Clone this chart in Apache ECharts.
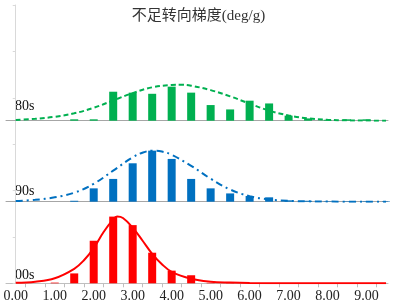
<!DOCTYPE html>
<html>
<head>
<meta charset="utf-8">
<script src="https://cdn.jsdelivr.net/npm/echarts@6/dist/echarts.min.js"></script>
<style>html,body{margin:0;padding:0;background:#fff}#c{width:397px;height:308px}</style>
</head>
<body>
<div id="c"></div>
<script>
// ---- data ----
const titleText = '不足转向梯度(deg/g)';
const bandNames = ['80s', '90s', '00s'];
const binX = [0.0, 0.5, 1.0, 1.5, 2.0, 2.5, 3.0, 3.5, 4.0, 4.5, 5.0, 5.5, 6.0, 6.5, 7.0, 7.5, 8.0, 8.5, 9.0, 9.5];
const bars80 = [0, 0, 0, 0.6, 0.6, 12.6, 12.2, 11.7, 14.8, 12.2, 6.8, 4.9, 8.7, 7.5, 2.2, 1.0, 0.4, 0.6, 0.6, 0];
const bars90 = [0, 0, 0, 0.4, 5.8, 9.9, 16.7, 22.2, 18.6, 9.9, 5.8, 3.6, 2.5, 1.9, 0.6, 0.4, 0.2, 0.2, 0.2, 0.2];
const bars00 = [0, 0, 0.3, 4.3, 18.5, 29.0, 25.3, 13.3, 5.5, 3.5, 0.2, 0.4, 0, 0, 0, 0, 0, 0, 0, 0];

const curve80X = [0, 0.5, 1.0, 1.5, 2.0, 2.5, 3.0, 3.5, 4.0, 4.25, 4.5, 5.0, 5.5, 6.0, 6.5, 7.0, 7.5, 8.0, 8.5, 9.0, 9.5];
const curve80Y = [0.3, 0.8, 1.7, 3.2, 5.6, 8.8, 12.0, 14.5, 15.5, 15.6, 15.2, 13.3, 10.6, 7.4, 4.4, 2.3, 1.0, 0.4, 0.15, 0.05, 0];
const curve90X = [0, 0.5, 1.0, 1.5, 2.0, 2.5, 3.0, 3.25, 3.5, 3.75, 4.0, 4.5, 5.0, 5.5, 6.0, 6.5, 7.0, 7.5, 8.0, 9.5];
const curve90Y = [0.3, 0.8, 1.9, 3.9, 7.8, 13.5, 19.3, 21.3, 22.2, 21.8, 20.4, 15.6, 10.0, 5.3, 2.4, 1.0, 0.4, 0.15, 0.05, 0];
const curve00X = [0, 0.5, 1.0, 1.5, 1.75, 2.0, 2.25, 2.5, 2.6, 2.75, 3.0, 3.25, 3.5, 3.75, 4.0, 4.5, 5.0, 5.5, 6.0, 7.0, 9.5];
const curve00Y = [0.2, 0.7, 2.2, 6.3, 10.0, 15.3, 22.2, 27.8, 29.0, 28.4, 24.2, 18.6, 12.8, 8.3, 5.0, 2.0, 0.7, 0.3, 0.1, 0, 0];

const xLabelValues = [0, 1, 2, 3, 4, 5, 6, 7, 8, 9];
const xTickValues = [0.25, 0.75, 1.25, 1.75, 2.25, 2.75, 3.25, 3.75, 4.25, 4.75, 5.25, 5.75, 6.25, 6.75, 7.25, 7.75, 8.25, 8.75, 9.25];

// ---- chart ----
const zip = (xs, ys) => xs.map((x, i) => [x, ys[i]]);
const serif = '"Liberation Serif", "DejaVu Serif", "Noto Sans CJK SC", serif';
const XMIN = -0.25, XMAX = 9.55;
const L = 6, W = 382;
const baselines = [120.7, 201.7, 283.3];
const bandH = 92;
const colors = ['#00b050', '#0070c0', '#ff0000'];

const grids = [{ left: L, width: W, top: 5, height: 278.3 }];
baselines.forEach(b => grids.push({ left: L, width: W, top: b - bandH, height: bandH }));

const xAxes = [{
  gridIndex: 0, type: 'value', min: XMIN, max: XMAX,
  axisLine: { show: true, lineStyle: { color: '#bfbfbf', width: 1 } },
  axisTick: { show: true, length: 4, customValues: xTickValues, lineStyle: { color: '#bfbfbf' } },
  axisLabel: { show: true, customValues: xLabelValues, formatter: v => Number(v).toFixed(2),
    fontFamily: serif, fontSize: 14, color: '#222', margin: 6 },
  splitLine: { show: false }
}];
const yAxes = [{
  gridIndex: 0, type: 'value', min: 0, max: 6, interval: 1,
  axisLine: { show: true, lineStyle: { color: '#d9d9d9', width: 1 } },
  axisTick: { show: true, length: 3, lineStyle: { color: '#d9d9d9' } },
  axisLabel: { show: false }, splitLine: { show: false }
}];
baselines.forEach((b, i) => {
  xAxes.push({
    gridIndex: i + 1, type: 'value', min: XMIN, max: XMAX,
    axisLine: { show: i < 2, onZero: false, lineStyle: { color: '#a6a6a6', width: 1 } },
    axisTick: { show: false }, axisLabel: { show: false }, splitLine: { show: false }
  });
  yAxes.push({
    gridIndex: i + 1, type: 'value', min: 0, max: 40, show: false, splitLine: { show: false }
  });
});

const barSets = [bars80, bars90, bars00];
const curves = [zip(curve80X, curve80Y), zip(curve90X, curve90Y), zip(curve00X, curve00Y)];
const lineStyles = [
  { type: [5, 3], width: 2 },
  { type: [7, 4, 2, 4], width: 2 },
  { type: 'solid', width: 2 }
];
const series = [];
barSets.forEach((vals, i) => {
  series.push({
    type: 'bar', xAxisIndex: i + 1, yAxisIndex: i + 1, barWidth: 8,
    data: zip(binX, vals), itemStyle: { color: colors[i] }, silent: true, z: 2
  });
});
curves.forEach((pts, i) => {
  series.push({
    type: 'line', xAxisIndex: i + 1, yAxisIndex: i + 1, smooth: 0.4, symbol: 'none',
    data: pts, lineStyle: Object.assign({ color: colors[i] }, lineStyles[i]), silent: true, z: 3
  });
});

const labelCenters = [107.5, 192, 276];
const graphic = bandNames.map((n, i) => ({
  type: 'text', left: 15, top: labelCenters[i] - 8,
  style: { text: n, font: '14px ' + serif, fill: '#111' }
}));

const chart = echarts.init(document.getElementById('c'), null, { renderer: 'canvas' });
chart.setOption({
  animation: false,
  title: { text: titleText, left: 'center', top: 4,
    textStyle: { fontFamily: serif, fontSize: 15, fontWeight: 'normal', color: '#333' } },
  grid: grids, xAxis: xAxes, yAxis: yAxes, series, graphic
});
</script>
</body>
</html>
